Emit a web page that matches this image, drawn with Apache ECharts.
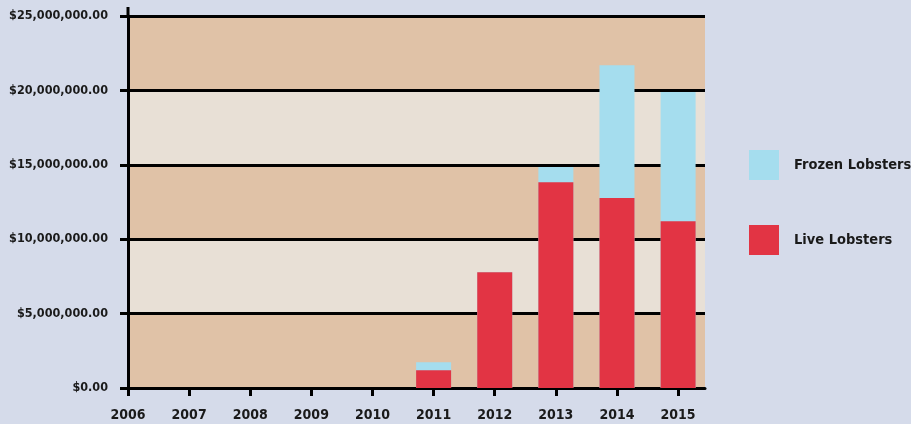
<!DOCTYPE html>
<html>
<head>
<meta charset="utf-8">
<script src="https://cdn.jsdelivr.net/npm/echarts@6/dist/echarts.min.js"></script>
<style>
html,body{margin:0;padding:0;background:#d5dbea;}
#c{width:911px;height:424px;}
</style>
</head>
<body>
<div id="c"></div>
<script>
const years = [2011, 2012, 2013, 2014, 2015];
const liveLobsters = [1190000, 7780000, 13820000, 12770000, 11200000];
const frozenLobsters = [540000, 0, 1030000, 8920000, 8690000];
const xTicks = [2006, 2007, 2008, 2009, 2010, 2011, 2012, 2013, 2014, 2015];
const seriesNames = ['Frozen Lobsters', 'Live Lobsters'];

const FONT = '"DejaVu Sans Condensed", "Liberation Sans Narrow", sans-serif';
const chart = echarts.init(document.getElementById('c'));
const fmtMoney = v => '$' + v.toLocaleString('en-US', {minimumFractionDigits: 2, maximumFractionDigits: 2});

// frozen bar is stacked on top of live bar: drawn as the total behind the live bar
const frozenTop = years.map((y, i) => [y, liveLobsters[i] + frozenLobsters[i]]);

chart.setOption({
  backgroundColor: '#d5dbea',
  animation: false,
  grid: {left: 128, top: 16, right: 206, bottom: 36, containLabel: false},
  legend: {
    orient: 'vertical',
    left: 744, top: 145,
    itemWidth: 30, itemHeight: 30, itemGap: 45,
    icon: 'rect',
    data: seriesNames,
    textStyle: {fontFamily: FONT, fontWeight: 'bold', fontSize: 14.5, color: '#1a1a1a', padding: [0, 0, 0, 10]}
  },
  xAxis: {
    type: 'value', min: 2006, max: 2015.44, interval: 1,
    splitLine: {show: false},
    axisLine: {show: true, onZero: false, lineStyle: {color: '#000', width: 3}},
    axisTick: {show: true, length: 8, customValues: xTicks, lineStyle: {color: '#000', width: 3}},
    axisLabel: {customValues: xTicks, formatter: v => String(v), fontFamily: FONT, fontWeight: 'bold', fontSize: 14, color: '#1a1a1a', margin: 20}
  },
  yAxis: {
    type: 'value', min: 0, max: 25000000, interval: 5000000,
    axisLine: {show: true, lineStyle: {color: '#000', width: 3}},
    axisTick: {show: true, length: 8, lineStyle: {color: '#000', width: 3}},
    splitLine: {show: true, lineStyle: {color: '#000', width: 3}},
    splitArea: {show: true, areaStyle: {color: ['#e0c2a7', '#e8e0d6']}},
    axisLabel: {formatter: fmtMoney, fontFamily: FONT, fontWeight: 'bold', fontSize: 12.5, color: '#1a1a1a', margin: 20}
  },
  graphic: [{type: 'line', shape: {x1: 128, y1: 7, x2: 128, y2: 16}, style: {stroke: '#000', lineWidth: 3}}],
  series: [
    {name: seriesNames[0], type: 'bar', barWidth: 35, barGap: '-100%', z: 2, itemStyle: {color: '#a5ddee'},
     data: frozenTop},
    {name: seriesNames[1], type: 'bar', barWidth: 35, barGap: '-100%', z: 3, itemStyle: {color: '#e23444'},
     data: years.map((y, i) => [y, liveLobsters[i]])}
  ]
});
</script>
</body>
</html>
